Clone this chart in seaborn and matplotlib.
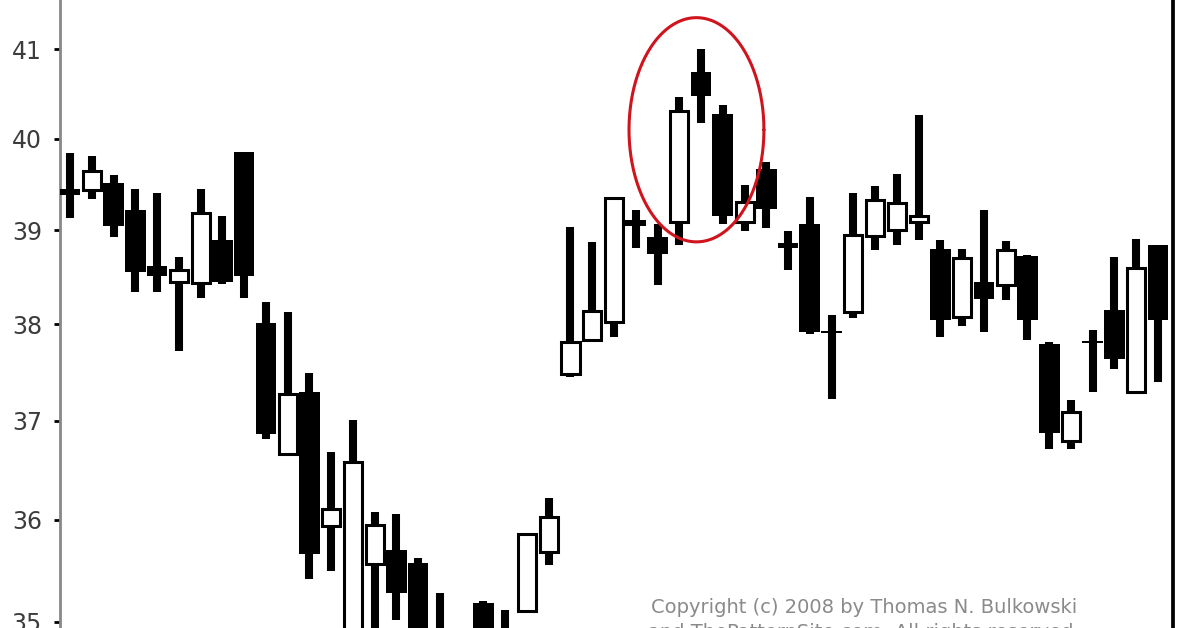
import matplotlib
matplotlib.use("Agg")
import matplotlib.pyplot as plt
import numpy as np
import seaborn as sns

# daily bars, left to right (prices, log scale chart)
opens = [39.45, 39.44, 39.51, 39.22, 38.62, 38.45, 38.44, 38.90, 39.85, 38.01,
         36.66, 37.30, 35.94, 34.75, 35.56, 35.70, 35.57, 34.85, 34.70, 35.18,
         34.90, 35.10, 35.68, 37.48, 37.84, 38.02, 39.11, 38.93, 39.09, 40.75,
         40.27, 39.09, 39.67, 38.86, 39.07, 37.93, 38.13, 38.94, 39.00, 39.09,
         38.80, 38.08, 38.45, 38.41, 38.72, 37.79, 36.79, 37.83, 38.15, 37.29,
         38.84]
highs = [39.84, 39.81, 39.60, 39.45, 39.40, 38.71, 39.45, 39.16, 39.85, 38.24,
         38.13, 37.49, 36.68, 37.01, 36.08, 36.06, 35.62, 35.28, 34.85, 35.20,
         35.11, 35.87, 36.22, 39.04, 38.87, 39.35, 39.22, 39.07, 40.47, 41.01,
         40.38, 39.49, 39.74, 38.99, 39.36, 38.10, 39.40, 39.48, 39.61, 40.26,
         38.90, 38.80, 39.22, 38.89, 38.73, 37.81, 37.21, 37.94, 38.71, 38.91,
         38.84]
lows = [39.13, 39.34, 38.93, 38.34, 38.34, 37.72, 38.28, 38.43, 38.28, 36.81,
        36.66, 35.42, 35.49, 34.60, 34.75, 35.02, 34.65, 34.60, 34.40, 34.70,
        34.70, 35.10, 35.55, 37.45, 37.83, 37.87, 38.81, 38.42, 38.84, 40.18,
        39.07, 38.99, 39.02, 38.58, 37.90, 37.22, 38.07, 38.79, 38.84, 38.90,
        37.87, 37.98, 37.92, 38.26, 37.84, 36.71, 36.71, 37.30, 37.53, 37.28,
        37.40]
closes = [39.38, 39.65, 39.05, 38.55, 38.51, 38.57, 39.19, 38.45, 38.51, 36.86,
          37.27, 35.66, 36.11, 36.58, 35.95, 35.28, 34.80, 34.70, 34.55, 34.85,
          34.80, 35.86, 36.03, 37.81, 38.14, 39.35, 39.05, 38.75, 40.31, 40.48,
          39.16, 39.31, 39.23, 38.81, 37.92, 37.91, 38.95, 39.33, 39.30, 39.16,
          38.04, 38.70, 38.27, 38.79, 38.04, 36.87, 37.09, 37.80, 37.64, 38.60,
          38.04]
price_ticks = [35, 36, 37, 38, 39, 40, 41]

copyright_lines = ["Copyright (c) 2008 by Thomas N. Bulkowski",
                   "and ThePatternSite.com. All rights reserved."]

sns.set_theme(style="white")
plt.rcParams["font.family"] = ["DejaVu Sans"]

fig = plt.figure(figsize=(12, 6.28), dpi=100)
ax = fig.add_axes([60 / 1200, 0, (1173 - 60) / 1200, 1])

o = np.array(opens)
h = np.array(highs)
l = np.array(lows)
c = np.array(closes)
idx = np.arange(len(o))
up = c > o

ax.vlines(idx, l, h, color="black", linewidth=5.8, zorder=2)
ax.bar(idx[~up], (o - c)[~up], bottom=c[~up], width=0.95,
       color="black", linewidth=0, zorder=3)
ax.bar(idx[up], (c - o)[up], bottom=o[up], width=0.83,
       color="white", edgecolor="black", linewidth=2.2, zorder=3)

ax.set_yscale("log")
ax.set_ylim(34.939, 41.565)
ax.set_xlim(-0.46, 50.69)
ax.set_yticks(price_ticks)
ax.set_yticklabels([str(t) for t in price_ticks])
ax.yaxis.set_minor_locator(matplotlib.ticker.NullLocator())
ax.set_xticks([])
ax.tick_params(axis="y", direction="out", length=4, width=2, color="black",
               pad=9, labelsize=17, labelcolor="#3c3c3c", left=True)

for side in ["top", "bottom"]:
    ax.spines[side].set_visible(False)
ax.spines["left"].set_color("#888888")
ax.spines["left"].set_linewidth(2)
ax.spines["right"].set_color("black")
ax.spines["right"].set_linewidth(2.7)

# red ring around the top
t = np.linspace(0, 2 * np.pi, 300)
ex = 28.79 + 3.1 * np.cos(t)
ey = np.exp(np.log(40.10) + 0.031 * np.sin(t))
ax.plot(ex, ey, color="#d0141e", linewidth=2.2, zorder=4)

fig.text(864 / 1200, 1 - 613 / 628, copyright_lines[0], ha="center",
         va="baseline", fontsize=14, color="#8a8a8a")
fig.text(864 / 1200, 1 - 638 / 628, copyright_lines[1], ha="center",
         va="baseline", fontsize=14, color="#8a8a8a")

fig.savefig("out.png", dpi=100)
